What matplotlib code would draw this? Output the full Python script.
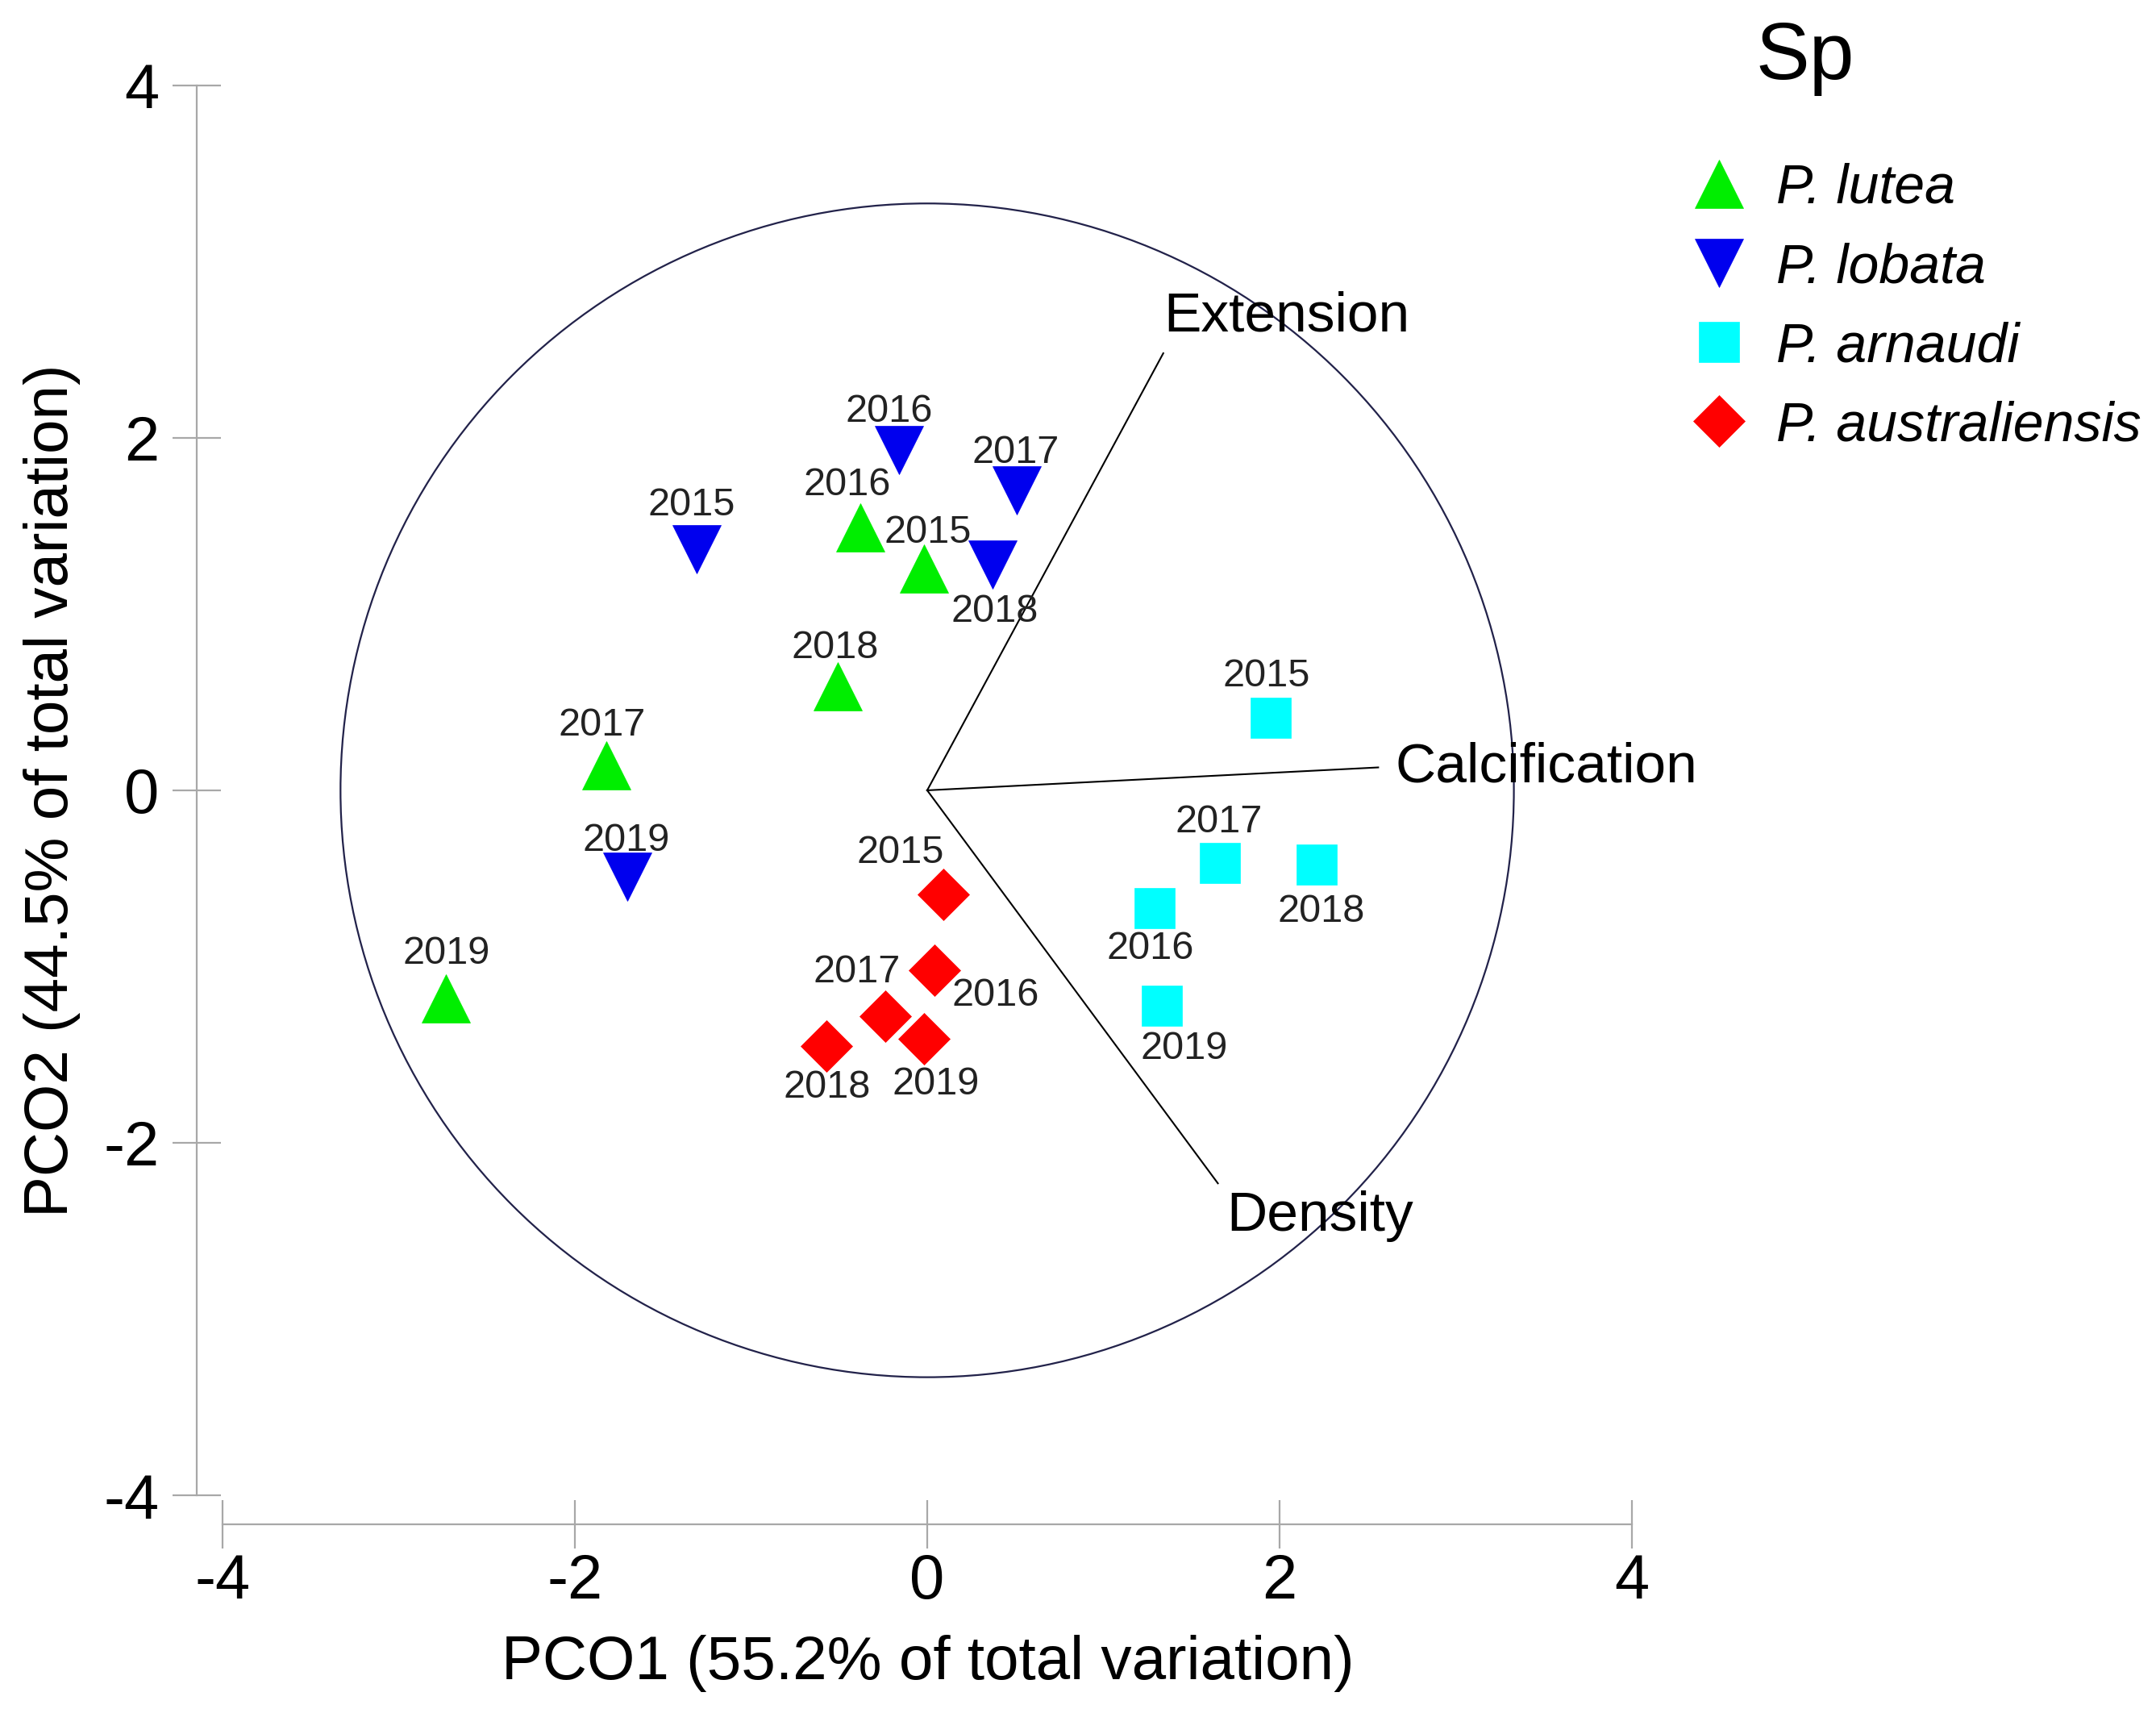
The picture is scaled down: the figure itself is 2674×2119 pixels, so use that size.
import matplotlib
matplotlib.use("Agg")
import matplotlib.pyplot as plt
from matplotlib.patches import Circle

plt.rcParams['font.family'] = ['Liberation Sans', 'DejaVu Sans']
plt.rcParams['axes.unicode_minus'] = False

# ---------------- data ----------------
species = ["P. lutea", "P. lobata", "P. arnaudi", "P. australiensis"]

lutea_years = ["2016", "2015", "2018", "2017", "2019"]
lutea_x = [-0.38, -0.02, -0.51, -1.82, -2.73]
lutea_y = [1.49, 1.26, 0.59, 0.14, -1.18]

lobata_years = ["2016", "2017", "2015", "2018", "2019"]
lobata_x = [-0.16, 0.51, -1.31, 0.37, -1.70]
lobata_y = [1.93, 1.70, 1.37, 1.28, -0.49]

arnaudi_years = ["2015", "2017", "2018", "2016", "2019"]
arnaudi_x = [1.95, 1.66, 2.21, 1.29, 1.33]
arnaudi_y = [0.41, -0.41, -0.42, -0.67, -1.22]

austr_years = ["2015", "2016", "2017", "2019", "2018"]
austr_x = [0.09, 0.04, -0.24, -0.02, -0.57]
austr_y = [-0.59, -1.02, -1.28, -1.41, -1.45]

vector_names = ["Extension", "Calcification", "Density"]
vector_x = [1.34, 2.56, 1.65]
vector_y = [2.48, 0.13, -2.23]

circle_radius = 3.33

xticks = [-4, -2, 0, 2, 4]
yticks = [-4, -2, 0, 2, 4]
xlabel = "PCO1 (55.2% of total variation)"
ylabel = "PCO2 (44.5% of total variation)"

# ---------------- styling / layout ----------------
W, H, DPI = 2674, 2119, 100
fig = plt.figure(figsize=(W / DPI, H / DPI), dpi=DPI)
ax = fig.add_axes([0.0705, 0.0838, 0.7191, 0.9075])
ax.set_xlim(-4.4, 4.4)
ax.set_ylim(-4.4, 4.4)

groups = [
    (lutea_x, lutea_y, lutea_years, '^', '#00ee00', 43,
     [(-12, 38), (4, 32), (-2, 34), (-4, 36), (0, 40)]),
    (lobata_x, lobata_y, lobata_years, 'v', '#0000ee', 43,
     [(-9, 34), (-1, 34), (-4, 39), (2, -42), (-1, 32)]),
    (arnaudi_x, arnaudi_y, arnaudi_years, 's', '#00ffff', 36,
     [(-4, 37), (-1, 36), (4, -42), (-4, -36), (20, -39)]),
    (austr_x, austr_y, austr_years, 'D', '#ff0000', 33,
     [(-38, 37), (55, -23), (-25, 39), (11, -41), (0, -37)]),
]

# circle
ax.add_patch(Circle((0, 0), circle_radius, fill=False, ec='#22224a', lw=1.6, zorder=1))

# vectors
vec_offsets = [((0, 33), 'left', 'center'), ((15, 0), 'left', 'center'), ((8, -29), 'left', 'center')]
for name, vx, vy, (off, ha, va) in zip(vector_names, vector_x, vector_y, vec_offsets):
    ax.plot([0, vx], [0, vy], color='black', lw=1.5, zorder=2)
    ax.annotate(name, (vx, vy), xytext=off, textcoords='offset points',
                ha=ha, va=va, fontsize=50, color='black', annotation_clip=False)

handles = []
for (gx, gy, years, mk, col, ms, offs), lab in zip(groups, species):
    ln, = ax.plot(gx, gy, linestyle='none', marker=mk, markersize=ms,
                  markerfacecolor=col, markeredgecolor=col, markeredgewidth=0.5,
                  zorder=3, label=lab)
    handles.append(ln)
    for x, y, yr, off in zip(gx, gy, years, offs):
        ax.annotate(yr, (x, y), xytext=off, textcoords='offset points',
                    ha='center', va='center', fontsize=35, color='#222222', zorder=4)

# axes spines (PRIMER style)
for s in ['top', 'right']:
    ax.spines[s].set_visible(False)
gray = '#a8a8a8'
ax.spines['left'].set_position(('data', -4.146))
ax.spines['bottom'].set_position(('data', -4.165))
ax.spines['left'].set_bounds(-4, 4)
ax.spines['bottom'].set_bounds(-4, 4)
for s in ['left', 'bottom']:
    ax.spines[s].set_color(gray)
    ax.spines[s].set_linewidth(1.6)
ax.set_xticks(xticks)
ax.set_yticks(yticks)
ax.set_xticklabels([str(t) for t in xticks])
ax.set_yticklabels([str(t) for t in yticks])
ax.tick_params(axis='both', direction='inout', length=43, width=1.6, color=gray,
               labelsize=56, labelcolor='black')
ax.tick_params(axis='x', pad=4)
ax.tick_params(axis='y', pad=12)

ax.set_xlabel(xlabel, fontsize=55, va='center')
ax.set_ylabel(ylabel, fontsize=55, va='center')
ax.xaxis.set_label_coords(1151 / W, 1 - 2063 / H, transform=fig.transFigure)
ax.yaxis.set_label_coords(65 / W, 1 - 980 / H, transform=fig.transFigure)

# legend
fig.text(2239 / W, 1 - 72 / H, "Sp", fontsize=72, ha='center', va='center')
leg = fig.legend(handles=handles, loc='upper left', bbox_to_anchor=(2098 / W, 1 - 202 / H),
                 frameon=False, borderpad=0, borderaxespad=0, handlelength=1.0,
                 handletextpad=0.55, labelspacing=0.5,
                 prop={'size': 49, 'style': 'italic'})

fig.savefig("out.png", dpi=DPI)
